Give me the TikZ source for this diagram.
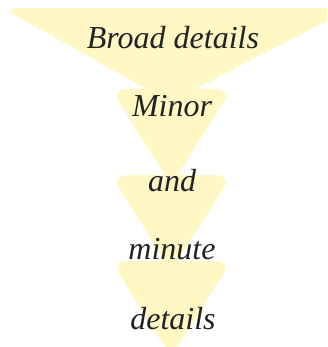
\documentclass[tikz,border=0pt]{standalone}
\usepackage{fontspec}
\setmainfont{Liberation Serif}
\definecolor{funnel}{HTML}{FFF8C4}
\definecolor{txt}{HTML}{222222}
\begin{document}
\begin{tikzpicture}[x=1pt,y=-1pt,
  tri/.style={fill=funnel,draw=none,rounded corners=16pt},
  lbl/.style={font=\fontsize{32}{36}\selectfont\itshape,text=txt,inner sep=0pt}]
\useasboundingbox (0,0) rectangle (327,347);
\clip (0,0) rectangle (327,347);
\fill[tri] (2,8) -- (352,8) -- (170,102) -- cycle;
\fill[tri] (111,89) -- (232,89) -- (171,185) -- cycle;
\fill[tri] (111,175) -- (232,175) -- (171,271) -- cycle;
\fill[tri] (111,261) -- (232,261) -- (171,357) -- cycle;
\node[lbl] (broad) at (173,38) {Broad details};
\node[lbl] (minor) at (172,106) {Minor};
\node[lbl] (and) at (172,181) {and};
\node[lbl] (minute) at (172,249) {minute};
\node[lbl] (details) at (173,319) {details};
\end{tikzpicture}
\end{document}
